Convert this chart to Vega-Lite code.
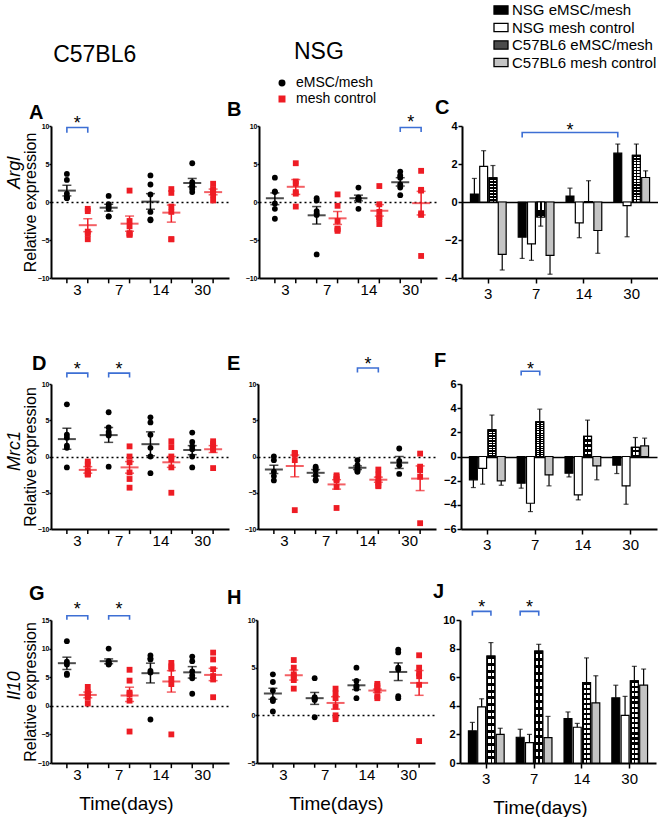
{
"$schema":"https://vega.github.io/schema/vega-lite/v6.json",
"background":"white",
"padding":{"left":6,"top":2,"right":0,"bottom":0},
"config":{
 "font":"Liberation Sans",
 "view":{"stroke":null},
 "axis":{"domainColor":"black","domainWidth":2,"tickColor":"black","tickWidth":1.5,"labelColor":"black","titleColor":"black","labelFont":"Liberation Sans","titleFont":"Liberation Sans","titleFontWeight":"normal","grid":false},
 "axisY":{"labelOverlap":false,"labelPadding":0,"tickSize":2,"tickCount":20,"format":"d"},
 "title":{"color":"black","font":"Liberation Sans","fontWeight":"bold","fontSize":20,"anchor":"start"},
 "legend":{"labelColor":"black","labelFont":"Liberation Sans"}
},
"datasets":{
"pts":[
{"p":"A","d":3,"g":"eMSC/mesh","v":3.7},{"p":"A","d":3,"g":"eMSC/mesh","v":2.9},{"p":"A","d":3,"g":"eMSC/mesh","v":1.1},{"p":"A","d":3,"g":"eMSC/mesh","v":0.6},{"p":"A","d":3,"g":"eMSC/mesh","v":0.5},{"p":"A","d":3,"g":"eMSC/mesh","v":0.6},
{"p":"A","d":3,"g":"mesh control","v":-0.9},{"p":"A","d":3,"g":"mesh control","v":-1.2},{"p":"A","d":3,"g":"mesh control","v":-3.9},{"p":"A","d":3,"g":"mesh control","v":-4.2},{"p":"A","d":3,"g":"mesh control","v":-4.9},
{"p":"A","d":7,"g":"eMSC/mesh","v":0.8},{"p":"A","d":7,"g":"eMSC/mesh","v":-0.3},{"p":"A","d":7,"g":"eMSC/mesh","v":-0.6},{"p":"A","d":7,"g":"eMSC/mesh","v":-0.9},{"p":"A","d":7,"g":"eMSC/mesh","v":-1.9},{"p":"A","d":7,"g":"eMSC/mesh","v":-1.9},
{"p":"A","d":7,"g":"mesh control","v":1.5},{"p":"A","d":7,"g":"mesh control","v":-2.5},{"p":"A","d":7,"g":"mesh control","v":-3.2},{"p":"A","d":7,"g":"mesh control","v":-4.1},{"p":"A","d":7,"g":"mesh control","v":-4.3},{"p":"A","d":7,"g":"mesh control","v":-4.3},
{"p":"A","d":14,"g":"eMSC/mesh","v":3.5},{"p":"A","d":14,"g":"eMSC/mesh","v":2.3},{"p":"A","d":14,"g":"eMSC/mesh","v":1.0},{"p":"A","d":14,"g":"eMSC/mesh","v":-1.3},{"p":"A","d":14,"g":"eMSC/mesh","v":-2.3},{"p":"A","d":14,"g":"eMSC/mesh","v":-2.4},
{"p":"A","d":14,"g":"mesh control","v":1.7},{"p":"A","d":14,"g":"mesh control","v":1.2},{"p":"A","d":14,"g":"mesh control","v":-0.6},{"p":"A","d":14,"g":"mesh control","v":-1.3},{"p":"A","d":14,"g":"mesh control","v":-4.9},{"p":"A","d":14,"g":"mesh control","v":-4.9},
{"p":"A","d":30,"g":"eMSC/mesh","v":5.1},{"p":"A","d":30,"g":"eMSC/mesh","v":2.6},{"p":"A","d":30,"g":"eMSC/mesh","v":2.2},{"p":"A","d":30,"g":"eMSC/mesh","v":2.0},{"p":"A","d":30,"g":"eMSC/mesh","v":1.7},{"p":"A","d":30,"g":"eMSC/mesh","v":1.3},
{"p":"A","d":30,"g":"mesh control","v":2.4},{"p":"A","d":30,"g":"mesh control","v":1.7},{"p":"A","d":30,"g":"mesh control","v":1.5},{"p":"A","d":30,"g":"mesh control","v":1.3},{"p":"A","d":30,"g":"mesh control","v":0.9},{"p":"A","d":30,"g":"mesh control","v":0.2},
{"p":"B","d":3,"g":"eMSC/mesh","v":3.2},{"p":"B","d":3,"g":"eMSC/mesh","v":1.4},{"p":"B","d":3,"g":"eMSC/mesh","v":1.3},{"p":"B","d":3,"g":"eMSC/mesh","v":-0.2},{"p":"B","d":3,"g":"eMSC/mesh","v":-0.9},{"p":"B","d":3,"g":"eMSC/mesh","v":-2.2},
{"p":"B","d":3,"g":"mesh control","v":5.1},{"p":"B","d":3,"g":"mesh control","v":2.7},{"p":"B","d":3,"g":"mesh control","v":2.4},{"p":"B","d":3,"g":"mesh control","v":1.3},{"p":"B","d":3,"g":"mesh control","v":1.1},{"p":"B","d":3,"g":"mesh control","v":-0.6},
{"p":"B","d":7,"g":"eMSC/mesh","v":0.5},{"p":"B","d":7,"g":"eMSC/mesh","v":0.2},{"p":"B","d":7,"g":"eMSC/mesh","v":-1.2},{"p":"B","d":7,"g":"eMSC/mesh","v":-1.5},{"p":"B","d":7,"g":"eMSC/mesh","v":-1.7},{"p":"B","d":7,"g":"eMSC/mesh","v":-6.9},
{"p":"B","d":7,"g":"mesh control","v":1.0},{"p":"B","d":7,"g":"mesh control","v":-0.5},{"p":"B","d":7,"g":"mesh control","v":-2.5},{"p":"B","d":7,"g":"mesh control","v":-3.5},{"p":"B","d":7,"g":"mesh control","v":-3.6},{"p":"B","d":7,"g":"mesh control","v":-3.8},
{"p":"B","d":14,"g":"eMSC/mesh","v":1.9},{"p":"B","d":14,"g":"eMSC/mesh","v":0.6},{"p":"B","d":14,"g":"eMSC/mesh","v":0.5},{"p":"B","d":14,"g":"eMSC/mesh","v":0.4},{"p":"B","d":14,"g":"eMSC/mesh","v":0.3},{"p":"B","d":14,"g":"eMSC/mesh","v":-0.9},
{"p":"B","d":14,"g":"mesh control","v":2.1},{"p":"B","d":14,"g":"mesh control","v":-0.3},{"p":"B","d":14,"g":"mesh control","v":-1.3},{"p":"B","d":14,"g":"mesh control","v":-2.0},{"p":"B","d":14,"g":"mesh control","v":-2.2},{"p":"B","d":14,"g":"mesh control","v":-2.9},
{"p":"B","d":30,"g":"eMSC/mesh","v":4.0},{"p":"B","d":30,"g":"eMSC/mesh","v":3.5},{"p":"B","d":30,"g":"eMSC/mesh","v":3.2},{"p":"B","d":30,"g":"eMSC/mesh","v":2.3},{"p":"B","d":30,"g":"eMSC/mesh","v":1.9},{"p":"B","d":30,"g":"eMSC/mesh","v":0.9},
{"p":"B","d":30,"g":"mesh control","v":4.1},{"p":"B","d":30,"g":"mesh control","v":1.6},{"p":"B","d":30,"g":"mesh control","v":1.5},{"p":"B","d":30,"g":"mesh control","v":-1.5},{"p":"B","d":30,"g":"mesh control","v":-1.7},{"p":"B","d":30,"g":"mesh control","v":-7.1},
{"p":"D","d":3,"g":"eMSC/mesh","v":7.2},{"p":"D","d":3,"g":"eMSC/mesh","v":3.0},{"p":"D","d":3,"g":"eMSC/mesh","v":2.6},{"p":"D","d":3,"g":"eMSC/mesh","v":1.5},{"p":"D","d":3,"g":"eMSC/mesh","v":1.2},{"p":"D","d":3,"g":"eMSC/mesh","v":-1.5},
{"p":"D","d":3,"g":"mesh control","v":-0.7},{"p":"D","d":3,"g":"mesh control","v":-1.1},{"p":"D","d":3,"g":"mesh control","v":-1.9},{"p":"D","d":3,"g":"mesh control","v":-2.3},{"p":"D","d":3,"g":"mesh control","v":-2.4},{"p":"D","d":3,"g":"mesh control","v":-2.5},
{"p":"D","d":7,"g":"eMSC/mesh","v":6.1},{"p":"D","d":7,"g":"eMSC/mesh","v":4.0},{"p":"D","d":7,"g":"eMSC/mesh","v":3.4},{"p":"D","d":7,"g":"eMSC/mesh","v":3.1},{"p":"D","d":7,"g":"eMSC/mesh","v":2.9},{"p":"D","d":7,"g":"eMSC/mesh","v":-1.4},
{"p":"D","d":7,"g":"mesh control","v":1.4},{"p":"D","d":7,"g":"mesh control","v":0.0},{"p":"D","d":7,"g":"mesh control","v":-0.8},{"p":"D","d":7,"g":"mesh control","v":-2.2},{"p":"D","d":7,"g":"mesh control","v":-3.1},{"p":"D","d":7,"g":"mesh control","v":-4.3},
{"p":"D","d":14,"g":"eMSC/mesh","v":5.4},{"p":"D","d":14,"g":"eMSC/mesh","v":4.7},{"p":"D","d":14,"g":"eMSC/mesh","v":3.0},{"p":"D","d":14,"g":"eMSC/mesh","v":1.2},{"p":"D","d":14,"g":"eMSC/mesh","v":0.0},{"p":"D","d":14,"g":"eMSC/mesh","v":-2.3},
{"p":"D","d":14,"g":"mesh control","v":2.1},{"p":"D","d":14,"g":"mesh control","v":1.3},{"p":"D","d":14,"g":"mesh control","v":0.0},{"p":"D","d":14,"g":"mesh control","v":-0.4},{"p":"D","d":14,"g":"mesh control","v":-1.5},{"p":"D","d":14,"g":"mesh control","v":-5.0},
{"p":"D","d":30,"g":"eMSC/mesh","v":3.3},{"p":"D","d":30,"g":"eMSC/mesh","v":2.0},{"p":"D","d":30,"g":"eMSC/mesh","v":1.4},{"p":"D","d":30,"g":"eMSC/mesh","v":1.0},{"p":"D","d":30,"g":"eMSC/mesh","v":0.0},{"p":"D","d":30,"g":"eMSC/mesh","v":-1.5},
{"p":"D","d":30,"g":"mesh control","v":2.1},{"p":"D","d":30,"g":"mesh control","v":1.8},{"p":"D","d":30,"g":"mesh control","v":1.5},{"p":"D","d":30,"g":"mesh control","v":1.1},{"p":"D","d":30,"g":"mesh control","v":0.9},{"p":"D","d":30,"g":"mesh control","v":-1.6},
{"p":"E","d":3,"g":"eMSC/mesh","v":0.0},{"p":"E","d":3,"g":"eMSC/mesh","v":-0.5},{"p":"E","d":3,"g":"eMSC/mesh","v":-2.1},{"p":"E","d":3,"g":"eMSC/mesh","v":-2.7},{"p":"E","d":3,"g":"eMSC/mesh","v":-3.3},
{"p":"E","d":3,"g":"mesh control","v":0.5},{"p":"E","d":3,"g":"mesh control","v":0.4},{"p":"E","d":3,"g":"mesh control","v":0.3},{"p":"E","d":3,"g":"mesh control","v":-0.5},{"p":"E","d":3,"g":"mesh control","v":-7.4},
{"p":"E","d":7,"g":"eMSC/mesh","v":-1.4},{"p":"E","d":7,"g":"eMSC/mesh","v":-1.6},{"p":"E","d":7,"g":"eMSC/mesh","v":-1.9},{"p":"E","d":7,"g":"eMSC/mesh","v":-2.6},{"p":"E","d":7,"g":"eMSC/mesh","v":-3.2},{"p":"E","d":7,"g":"eMSC/mesh","v":-3.3},
{"p":"E","d":7,"g":"mesh control","v":-2.6},{"p":"E","d":7,"g":"mesh control","v":-2.8},{"p":"E","d":7,"g":"mesh control","v":-3.1},{"p":"E","d":7,"g":"mesh control","v":-3.3},{"p":"E","d":7,"g":"mesh control","v":-4.2},{"p":"E","d":7,"g":"mesh control","v":-7.1},
{"p":"E","d":14,"g":"eMSC/mesh","v":-0.5},{"p":"E","d":14,"g":"eMSC/mesh","v":-1.2},{"p":"E","d":14,"g":"eMSC/mesh","v":-1.6},{"p":"E","d":14,"g":"eMSC/mesh","v":-1.8},{"p":"E","d":14,"g":"eMSC/mesh","v":-2.0},{"p":"E","d":14,"g":"eMSC/mesh","v":-2.1},
{"p":"E","d":14,"g":"mesh control","v":-1.8},{"p":"E","d":14,"g":"mesh control","v":-2.5},{"p":"E","d":14,"g":"mesh control","v":-3.1},{"p":"E","d":14,"g":"mesh control","v":-3.6},{"p":"E","d":14,"g":"mesh control","v":-4.0},{"p":"E","d":14,"g":"mesh control","v":-4.1},
{"p":"E","d":30,"g":"eMSC/mesh","v":1.1},{"p":"E","d":30,"g":"eMSC/mesh","v":-0.6},{"p":"E","d":30,"g":"eMSC/mesh","v":-1.2},{"p":"E","d":30,"g":"eMSC/mesh","v":-2.4},
{"p":"E","d":30,"g":"mesh control","v":0.4},{"p":"E","d":30,"g":"mesh control","v":-1.4},{"p":"E","d":30,"g":"mesh control","v":-1.7},{"p":"E","d":30,"g":"mesh control","v":-1.9},{"p":"E","d":30,"g":"mesh control","v":-2.8},{"p":"E","d":30,"g":"mesh control","v":-9.2},
{"p":"G","d":3,"g":"eMSC/mesh","v":11.3},{"p":"G","d":3,"g":"eMSC/mesh","v":7.7},{"p":"G","d":3,"g":"eMSC/mesh","v":7.2},{"p":"G","d":3,"g":"eMSC/mesh","v":5.6},{"p":"G","d":3,"g":"eMSC/mesh","v":5.4},
{"p":"G","d":3,"g":"mesh control","v":3.3},{"p":"G","d":3,"g":"mesh control","v":2.4},{"p":"G","d":3,"g":"mesh control","v":2.2},{"p":"G","d":3,"g":"mesh control","v":1.9},{"p":"G","d":3,"g":"mesh control","v":1.4},{"p":"G","d":3,"g":"mesh control","v":0.4},
{"p":"G","d":7,"g":"eMSC/mesh","v":10.0},{"p":"G","d":7,"g":"eMSC/mesh","v":7.8},{"p":"G","d":7,"g":"eMSC/mesh","v":7.6},{"p":"G","d":7,"g":"eMSC/mesh","v":7.4},{"p":"G","d":7,"g":"eMSC/mesh","v":7.3},{"p":"G","d":7,"g":"eMSC/mesh","v":7.2},
{"p":"G","d":7,"g":"mesh control","v":6.3},{"p":"G","d":7,"g":"mesh control","v":4.4},{"p":"G","d":7,"g":"mesh control","v":2.3},{"p":"G","d":7,"g":"mesh control","v":2.0},{"p":"G","d":7,"g":"mesh control","v":0.9},{"p":"G","d":7,"g":"mesh control","v":-4.5},
{"p":"G","d":14,"g":"eMSC/mesh","v":8.8},{"p":"G","d":14,"g":"eMSC/mesh","v":8.3},{"p":"G","d":14,"g":"eMSC/mesh","v":8.1},{"p":"G","d":14,"g":"eMSC/mesh","v":6.1},{"p":"G","d":14,"g":"eMSC/mesh","v":5.8},{"p":"G","d":14,"g":"eMSC/mesh","v":-2.4},
{"p":"G","d":14,"g":"mesh control","v":7.5},{"p":"G","d":14,"g":"mesh control","v":6.9},{"p":"G","d":14,"g":"mesh control","v":6.5},{"p":"G","d":14,"g":"mesh control","v":4.7},{"p":"G","d":14,"g":"mesh control","v":3.8},{"p":"G","d":14,"g":"mesh control","v":-5.0},
{"p":"G","d":30,"g":"eMSC/mesh","v":8.6},{"p":"G","d":30,"g":"eMSC/mesh","v":7.8},{"p":"G","d":30,"g":"eMSC/mesh","v":6.0},{"p":"G","d":30,"g":"eMSC/mesh","v":5.3},{"p":"G","d":30,"g":"eMSC/mesh","v":4.8},{"p":"G","d":30,"g":"eMSC/mesh","v":2.1},
{"p":"G","d":30,"g":"mesh control","v":9.3},{"p":"G","d":30,"g":"mesh control","v":8.1},{"p":"G","d":30,"g":"mesh control","v":6.4},{"p":"G","d":30,"g":"mesh control","v":5.2},{"p":"G","d":30,"g":"mesh control","v":4.6},{"p":"G","d":30,"g":"mesh control","v":1.5},
{"p":"H","d":3,"g":"eMSC/mesh","v":4.3},{"p":"H","d":3,"g":"eMSC/mesh","v":3.5},{"p":"H","d":3,"g":"eMSC/mesh","v":2.6},{"p":"H","d":3,"g":"eMSC/mesh","v":1.7},{"p":"H","d":3,"g":"eMSC/mesh","v":1.5},{"p":"H","d":3,"g":"eMSC/mesh","v":0.4},
{"p":"H","d":3,"g":"mesh control","v":5.8},{"p":"H","d":3,"g":"mesh control","v":5.0},{"p":"H","d":3,"g":"mesh control","v":4.3},{"p":"H","d":3,"g":"mesh control","v":4.1},{"p":"H","d":3,"g":"mesh control","v":3.7},{"p":"H","d":3,"g":"mesh control","v":2.8},
{"p":"H","d":7,"g":"eMSC/mesh","v":3.9},{"p":"H","d":7,"g":"eMSC/mesh","v":1.9},{"p":"H","d":7,"g":"eMSC/mesh","v":1.8},{"p":"H","d":7,"g":"eMSC/mesh","v":1.7},{"p":"H","d":7,"g":"eMSC/mesh","v":1.6},{"p":"H","d":7,"g":"eMSC/mesh","v":-0.2},
{"p":"H","d":7,"g":"mesh control","v":2.8},{"p":"H","d":7,"g":"mesh control","v":2.3},{"p":"H","d":7,"g":"mesh control","v":1.8},{"p":"H","d":7,"g":"mesh control","v":0.9},{"p":"H","d":7,"g":"mesh control","v":0.0},{"p":"H","d":7,"g":"mesh control","v":-0.4},
{"p":"H","d":14,"g":"eMSC/mesh","v":5.0},{"p":"H","d":14,"g":"eMSC/mesh","v":3.6},{"p":"H","d":14,"g":"eMSC/mesh","v":3.1},{"p":"H","d":14,"g":"eMSC/mesh","v":3.0},{"p":"H","d":14,"g":"eMSC/mesh","v":2.8},{"p":"H","d":14,"g":"eMSC/mesh","v":1.8},
{"p":"H","d":14,"g":"mesh control","v":3.3},{"p":"H","d":14,"g":"mesh control","v":3.1},{"p":"H","d":14,"g":"mesh control","v":2.9},{"p":"H","d":14,"g":"mesh control","v":2.6},{"p":"H","d":14,"g":"mesh control","v":2.0},{"p":"H","d":14,"g":"mesh control","v":1.8},
{"p":"H","d":30,"g":"eMSC/mesh","v":6.9},{"p":"H","d":30,"g":"eMSC/mesh","v":6.6},{"p":"H","d":30,"g":"eMSC/mesh","v":5.0},{"p":"H","d":30,"g":"eMSC/mesh","v":4.8},{"p":"H","d":30,"g":"eMSC/mesh","v":2.0},{"p":"H","d":30,"g":"eMSC/mesh","v":1.8},
{"p":"H","d":30,"g":"mesh control","v":6.3},{"p":"H","d":30,"g":"mesh control","v":5.0},{"p":"H","d":30,"g":"mesh control","v":4.4},{"p":"H","d":30,"g":"mesh control","v":4.1},{"p":"H","d":30,"g":"mesh control","v":3.2},{"p":"H","d":30,"g":"mesh control","v":-2.7}
],
"sm":[
{"p":"A","d":3,"g":"eMSC/mesh","m":1.5,"lo":0.8,"hi":2.2},{"p":"A","d":3,"g":"mesh control","m":-3.05,"lo":-3.9,"hi":-2.2},
{"p":"A","d":7,"g":"eMSC/mesh","m":-0.75,"lo":-1.2,"hi":-0.3},{"p":"A","d":7,"g":"mesh control","m":-2.85,"lo":-3.85,"hi":-1.85},
{"p":"A","d":14,"g":"eMSC/mesh","m":0.05,"lo":-0.95,"hi":1.1},{"p":"A","d":14,"g":"mesh control","m":-1.4,"lo":-2.65,"hi":-0.4},
{"p":"A","d":30,"g":"eMSC/mesh","m":2.5,"lo":2.0,"hi":3.1},{"p":"A","d":30,"g":"mesh control","m":1.3,"lo":0.95,"hi":1.7},
{"p":"B","d":3,"g":"eMSC/mesh","m":0.5,"lo":-0.35,"hi":1.2},{"p":"B","d":3,"g":"mesh control","m":2.0,"lo":1.0,"hi":2.95},
{"p":"B","d":7,"g":"eMSC/mesh","m":-1.75,"lo":-2.9,"hi":-0.6},{"p":"B","d":7,"g":"mesh control","m":-2.15,"lo":-2.95,"hi":-1.25},
{"p":"B","d":14,"g":"eMSC/mesh","m":0.5,"lo":0.15,"hi":0.9},{"p":"B","d":14,"g":"mesh control","m":-1.15,"lo":-1.85,"hi":-0.35},
{"p":"B","d":30,"g":"eMSC/mesh","m":2.6,"lo":2.1,"hi":3.2},{"p":"B","d":30,"g":"mesh control","m":-0.15,"lo":-1.7,"hi":1.4},
{"p":"D","d":3,"g":"eMSC/mesh","m":2.4,"lo":1.0,"hi":3.9},{"p":"D","d":3,"g":"mesh control","m":-1.85,"lo":-2.3,"hi":-1.4},
{"p":"D","d":7,"g":"eMSC/mesh","m":2.95,"lo":1.95,"hi":4.0},{"p":"D","d":7,"g":"mesh control","m":-1.5,"lo":-2.3,"hi":-0.7},
{"p":"D","d":14,"g":"eMSC/mesh","m":1.7,"lo":0.1,"hi":3.4},{"p":"D","d":14,"g":"mesh control","m":-0.8,"lo":-1.5,"hi":0.0},
{"p":"D","d":30,"g":"eMSC/mesh","m":0.9,"lo":0.25,"hi":1.5},{"p":"D","d":30,"g":"mesh control","m":1.0,"lo":0.55,"hi":1.5},
{"p":"E","d":3,"g":"eMSC/mesh","m":-1.8,"lo":-2.35,"hi":-1.2},{"p":"E","d":3,"g":"mesh control","m":-1.3,"lo":-2.8,"hi":0.2},
{"p":"E","d":7,"g":"eMSC/mesh","m":-2.25,"lo":-2.7,"hi":-1.8},{"p":"E","d":7,"g":"mesh control","m":-3.85,"lo":-4.5,"hi":-3.2},
{"p":"E","d":14,"g":"eMSC/mesh","m":-1.55,"lo":-1.8,"hi":-1.3},{"p":"E","d":14,"g":"mesh control","m":-3.2,"lo":-3.55,"hi":-2.85},
{"p":"E","d":30,"g":"eMSC/mesh","m":-0.85,"lo":-1.65,"hi":0.0},{"p":"E","d":30,"g":"mesh control","m":-3.05,"lo":-4.7,"hi":-1.3},
{"p":"G","d":3,"g":"eMSC/mesh","m":7.45,"lo":6.35,"hi":8.5},{"p":"G","d":3,"g":"mesh control","m":1.9,"lo":1.4,"hi":2.4},
{"p":"G","d":7,"g":"eMSC/mesh","m":7.8,"lo":7.35,"hi":8.2},{"p":"G","d":7,"g":"mesh control","m":1.8,"lo":0.75,"hi":3.25},
{"p":"G","d":14,"g":"eMSC/mesh","m":5.7,"lo":4.0,"hi":7.45},{"p":"G","d":14,"g":"mesh control","m":4.25,"lo":2.4,"hi":6.15},
{"p":"G","d":30,"g":"eMSC/mesh","m":5.85,"lo":4.85,"hi":6.85},{"p":"G","d":30,"g":"mesh control","m":5.4,"lo":4.4,"hi":6.55},
{"p":"H","d":3,"g":"eMSC/mesh","m":2.3,"lo":1.7,"hi":2.85},{"p":"H","d":3,"g":"mesh control","m":4.2,"lo":3.7,"hi":4.75},
{"p":"H","d":7,"g":"eMSC/mesh","m":1.8,"lo":1.15,"hi":2.4},{"p":"H","d":7,"g":"mesh control","m":1.3,"lo":0.65,"hi":1.95},
{"p":"H","d":14,"g":"eMSC/mesh","m":3.15,"lo":2.7,"hi":3.7},{"p":"H","d":14,"g":"mesh control","m":2.6,"lo":2.4,"hi":2.75},
{"p":"H","d":30,"g":"eMSC/mesh","m":4.55,"lo":3.65,"hi":5.5},{"p":"H","d":30,"g":"mesh control","m":3.4,"lo":2.1,"hi":4.7}
],
"bars":[
{"p":"C","d":3,"s":"NSG eMSC/mesh","v":0.42,"e":1.24},{"p":"C","d":3,"s":"NSG mesh control","v":1.87,"e":2.7},{"p":"C","d":3,"s":"C57BL6 eMSC/mesh","v":1.27,"e":1.92},{"p":"C","d":3,"s":"C57BL6 mesh control","v":-2.76,"e":-3.58},
{"p":"C","d":7,"s":"NSG eMSC/mesh","v":-1.85,"e":-2.97},{"p":"C","d":7,"s":"NSG mesh control","v":-2.2,"e":-3.07},{"p":"C","d":7,"s":"C57BL6 eMSC/mesh","v":-0.79,"e":-1.27},{"p":"C","d":7,"s":"C57BL6 mesh control","v":-2.81,"e":-3.8},
{"p":"C","d":14,"s":"NSG eMSC/mesh","v":0.31,"e":0.73},{"p":"C","d":14,"s":"NSG mesh control","v":-1.1,"e":-1.88},{"p":"C","d":14,"s":"C57BL6 eMSC/mesh","v":0.02,"e":1.12},{"p":"C","d":14,"s":"C57BL6 mesh control","v":-1.5,"e":-2.7},
{"p":"C","d":30,"s":"NSG eMSC/mesh","v":2.57,"e":3.05},{"p":"C","d":30,"s":"NSG mesh control","v":-0.19,"e":-1.83},{"p":"C","d":30,"s":"C57BL6 eMSC/mesh","v":2.46,"e":3.05},{"p":"C","d":30,"s":"C57BL6 mesh control","v":1.29,"e":1.64},
{"p":"F","d":3,"s":"NSG eMSC/mesh","v":-1.93,"e":-2.57},{"p":"F","d":3,"s":"NSG mesh control","v":-0.99,"e":-2.29},{"p":"F","d":3,"s":"C57BL6 eMSC/mesh","v":2.21,"e":3.43},{"p":"F","d":3,"s":"C57BL6 mesh control","v":-2.02,"e":-2.38},
{"p":"F","d":7,"s":"NSG eMSC/mesh","v":-2.21,"e":-2.62},{"p":"F","d":7,"s":"NSG mesh control","v":-3.87,"e":-4.56},{"p":"F","d":7,"s":"C57BL6 eMSC/mesh","v":2.87,"e":3.92},{"p":"F","d":7,"s":"C57BL6 mesh control","v":-1.52,"e":-2.43},
{"p":"F","d":14,"s":"NSG eMSC/mesh","v":-1.38,"e":-1.69},{"p":"F","d":14,"s":"NSG mesh control","v":-3.18,"e":-3.59},{"p":"F","d":14,"s":"C57BL6 eMSC/mesh","v":1.66,"e":3.01},{"p":"F","d":14,"s":"C57BL6 mesh control","v":-0.77,"e":-1.93},
{"p":"F","d":30,"s":"NSG eMSC/mesh","v":-0.72,"e":-1.41},{"p":"F","d":30,"s":"NSG mesh control","v":-2.43,"e":-3.95},{"p":"F","d":30,"s":"C57BL6 eMSC/mesh","v":0.75,"e":1.57},{"p":"F","d":30,"s":"C57BL6 mesh control","v":0.88,"e":1.52},
{"p":"J","d":3,"s":"NSG eMSC/mesh","v":2.25,"e":2.84},{"p":"J","d":3,"s":"NSG mesh control","v":3.92,"e":4.49},{"p":"J","d":3,"s":"C57BL6 eMSC/mesh","v":7.47,"e":8.42},{"p":"J","d":3,"s":"C57BL6 mesh control","v":2.0,"e":2.43},
{"p":"J","d":7,"s":"NSG eMSC/mesh","v":1.8,"e":2.36},{"p":"J","d":7,"s":"NSG mesh control","v":1.42,"e":2.0},{"p":"J","d":7,"s":"C57BL6 eMSC/mesh","v":7.82,"e":8.3},{"p":"J","d":7,"s":"C57BL6 mesh control","v":1.77,"e":3.26},
{"p":"J","d":14,"s":"NSG eMSC/mesh","v":3.1,"e":3.57},{"p":"J","d":14,"s":"NSG mesh control","v":2.5,"e":2.77},{"p":"J","d":14,"s":"C57BL6 eMSC/mesh","v":5.63,"e":7.35},{"p":"J","d":14,"s":"C57BL6 mesh control","v":4.2,"e":6.1},
{"p":"J","d":30,"s":"NSG eMSC/mesh","v":4.56,"e":5.44},{"p":"J","d":30,"s":"NSG mesh control","v":3.33,"e":4.66},{"p":"J","d":30,"s":"C57BL6 eMSC/mesh","v":5.74,"e":6.76},{"p":"J","d":30,"s":"C57BL6 mesh control","v":5.44,"e":6.57}
],
"brs":[
{"p":"A","id":"A3","d":3,"g":"eMSC/mesh","y":9.1,"k":1},{"p":"A","id":"A3","d":3,"g":"eMSC/mesh","y":9.8,"k":2},{"p":"A","id":"A3","d":3,"g":"mesh control","y":9.8,"k":3},{"p":"A","id":"A3","d":3,"g":"mesh control","y":9.1,"k":4},
{"p":"B","id":"B30","d":30,"g":"eMSC/mesh","y":9.2,"k":1},{"p":"B","id":"B30","d":30,"g":"eMSC/mesh","y":9.8,"k":2},{"p":"B","id":"B30","d":30,"g":"mesh control","y":9.8,"k":3},{"p":"B","id":"B30","d":30,"g":"mesh control","y":9.2,"k":4},
{"p":"D","id":"D3","d":3,"g":"eMSC/mesh","y":10.9,"k":1},{"p":"D","id":"D3","d":3,"g":"eMSC/mesh","y":11.5,"k":2},{"p":"D","id":"D3","d":3,"g":"mesh control","y":11.5,"k":3},{"p":"D","id":"D3","d":3,"g":"mesh control","y":10.9,"k":4},
{"p":"D","id":"D7","d":7,"g":"eMSC/mesh","y":10.9,"k":1},{"p":"D","id":"D7","d":7,"g":"eMSC/mesh","y":11.5,"k":2},{"p":"D","id":"D7","d":7,"g":"mesh control","y":11.5,"k":3},{"p":"D","id":"D7","d":7,"g":"mesh control","y":10.9,"k":4},
{"p":"E","id":"E14","d":14,"g":"eMSC/mesh","y":11.6,"k":1},{"p":"E","id":"E14","d":14,"g":"eMSC/mesh","y":12.2,"k":2},{"p":"E","id":"E14","d":14,"g":"mesh control","y":12.2,"k":3},{"p":"E","id":"E14","d":14,"g":"mesh control","y":11.6,"k":4},
{"p":"G","id":"G3","d":3,"g":"eMSC/mesh","y":15.05,"k":1},{"p":"G","id":"G3","d":3,"g":"eMSC/mesh","y":15.75,"k":2},{"p":"G","id":"G3","d":3,"g":"mesh control","y":15.75,"k":3},{"p":"G","id":"G3","d":3,"g":"mesh control","y":15.05,"k":4},
{"p":"G","id":"G7","d":7,"g":"eMSC/mesh","y":15.05,"k":1},{"p":"G","id":"G7","d":7,"g":"eMSC/mesh","y":15.75,"k":2},{"p":"G","id":"G7","d":7,"g":"mesh control","y":15.75,"k":3},{"p":"G","id":"G7","d":7,"g":"mesh control","y":15.05,"k":4}
],
"sts":[
{"p":"A","d":3,"y":10.3},{"p":"B","d":30,"y":10.45},{"p":"D","d":3,"y":11.9},{"p":"D","d":7,"y":11.9},{"p":"E","d":14,"y":12.6},{"p":"G","d":3,"y":16.7},{"p":"G","d":7,"y":16.7}
],
"brb":[
{"p":"C","id":"C1","d":7,"s":"NSG eMSC/mesh","y":3.4,"k":1},{"p":"C","id":"C1","d":7,"s":"NSG eMSC/mesh","y":3.66,"k":2},{"p":"C","id":"C1","d":30,"s":"NSG eMSC/mesh","y":3.66,"k":3},{"p":"C","id":"C1","d":30,"s":"NSG eMSC/mesh","y":3.4,"k":4},
{"p":"F","id":"F7","d":7,"s":"NSG eMSC/mesh","y":6.7,"k":1},{"p":"F","id":"F7","d":7,"s":"NSG eMSC/mesh","y":7.05,"k":2},{"p":"F","id":"F7","d":7,"s":"C57BL6 eMSC/mesh","y":7.05,"k":3},{"p":"F","id":"F7","d":7,"s":"C57BL6 eMSC/mesh","y":6.7,"k":4},
{"p":"J","id":"J3","d":3,"s":"NSG eMSC/mesh","y":10.3,"k":1},{"p":"J","id":"J3","d":3,"s":"NSG eMSC/mesh","y":10.6,"k":2},{"p":"J","id":"J3","d":3,"s":"C57BL6 eMSC/mesh","y":10.6,"k":3},{"p":"J","id":"J3","d":3,"s":"C57BL6 eMSC/mesh","y":10.3,"k":4},
{"p":"J","id":"J7","d":7,"s":"NSG eMSC/mesh","y":10.3,"k":1},{"p":"J","id":"J7","d":7,"s":"NSG eMSC/mesh","y":10.6,"k":2},{"p":"J","id":"J7","d":7,"s":"C57BL6 eMSC/mesh","y":10.6,"k":3},{"p":"J","id":"J7","d":7,"s":"C57BL6 eMSC/mesh","y":10.3,"k":4}
],
"stb":[
{"p":"C","d":14,"s":"NSG eMSC/mesh","y":3.76},{"p":"F","d":7,"s":"NSG mesh control","y":7.18},{"p":"J","d":3,"s":"NSG mesh control","y":10.84},{"p":"J","d":7,"s":"NSG mesh control","y":10.84}
]
},
"resolve":{"scale":{"color":"independent","shape":"independent","fill":"independent","stroke":"independent","x":"independent","y":"independent","xOffset":"independent"},"legend":{"color":"independent","shape":"independent","fill":"independent","stroke":"independent"}},
"spacing":29,
"vconcat":[
{"vconcat":[
{"hconcat":[
 {"vconcat":[{"vconcat":[
  {"width":178,"height":152,"title":{"text":"A","frame":"group","dx":-22,"offset":-8},
   "layer":[
    {"data":{"name":"sm"},"transform":[{"filter":"datum.p=='A'"}],"mark":{"type":"rule","color":"black","strokeWidth":1.5},"encoding":{"x":{"field":"d","type":"ordinal","scale":{"type":"band","domain":[3,7,14,30],"paddingInner":0,"paddingOuter":0.13},"axis":{"title":null,"ticks":false,"labelAngle":0,"labelFontSize":15,"labelPadding":4}},"xOffset":{"field":"g","type":"nominal","scale":{"domain":["eMSC/mesh","mesh control"],"paddingInner":0,"paddingOuter":0}},"y":{"datum":-10,"type":"quantitative","scale":{"domain":[-10,10],"nice":false,"zero":false},"axis":{"values":[-10,-5,0,5,10],"format":"d","tickCount":20,"labelOverlap":false,"title":"Relative expression","titleFontSize":16,"titlePadding":-1,"labelFontSize":7,"labelFontWeight":"bold","grid":true,"gridColor":"black","gridDash":[2,3],"gridWidth":1.3,"gridOpacity":{"condition":{"test":"datum.value === 0","value":1},"value":0}}},"y2":{"datum":-10.7}}},
    {"data":{"name":"pts"},"transform":[{"filter":"datum.p=='A'"}],"mark":{"type":"point","filled":true,"size":34,"opacity":1},"encoding":{"x":{"field":"d","type":"ordinal","scale":{"type":"band","domain":[3,7,14,30],"paddingInner":0,"paddingOuter":0.13}},"xOffset":{"field":"g","type":"nominal","scale":{"domain":["eMSC/mesh","mesh control"],"paddingInner":0,"paddingOuter":0}},"y":{"field":"v","type":"quantitative","scale":{"domain":[-10,10],"nice":false,"zero":false}},"color":{"field":"g","type":"nominal","scale":{"domain":["eMSC/mesh","mesh control"],"range":["black","#ee1c24"]},"legend":null},"shape":{"field":"g","type":"nominal","scale":{"domain":["eMSC/mesh","mesh control"],"range":["circle","square"]},"legend":null}}},
    {"data":{"name":"sm"},"transform":[{"filter":"datum.p=='A'"}],"mark":{"type":"rule","strokeWidth":1.5},"encoding":{"x":{"field":"d","type":"ordinal","scale":{"type":"band","domain":[3,7,14,30],"paddingInner":0,"paddingOuter":0.13}},"xOffset":{"field":"g","type":"nominal","scale":{"domain":["eMSC/mesh","mesh control"],"paddingInner":0,"paddingOuter":0}},"y":{"field":"lo","type":"quantitative","scale":{"domain":[-10,10],"nice":false,"zero":false}},"y2":{"field":"hi"},"stroke":{"field":"g","type":"nominal","scale":{"domain":["eMSC/mesh","mesh control"],"range":["black","#ee1c24"]},"legend":null}}},
    {"data":{"name":"sm"},"transform":[{"filter":"datum.p=='A'"},{"fold":["lo","hi"],"as":["k","c"]}],"mark":{"type":"tick","orient":"horizontal","size":9,"thickness":1.5},"encoding":{"x":{"field":"d","type":"ordinal","scale":{"type":"band","domain":[3,7,14,30],"paddingInner":0,"paddingOuter":0.13}},"xOffset":{"field":"g","type":"nominal","scale":{"domain":["eMSC/mesh","mesh control"],"paddingInner":0,"paddingOuter":0}},"y":{"field":"c","type":"quantitative","scale":{"domain":[-10,10],"nice":false,"zero":false}},"fill":{"field":"g","type":"nominal","scale":{"domain":["eMSC/mesh","mesh control"],"range":["black","#ee1c24"]},"legend":null}}},
    {"data":{"name":"sm"},"transform":[{"filter":"datum.p=='A'"}],"mark":{"type":"tick","orient":"horizontal","size":18,"thickness":2},"encoding":{"x":{"field":"d","type":"ordinal","scale":{"type":"band","domain":[3,7,14,30],"paddingInner":0,"paddingOuter":0.13}},"xOffset":{"field":"g","type":"nominal","scale":{"domain":["eMSC/mesh","mesh control"],"paddingInner":0,"paddingOuter":0}},"y":{"field":"m","type":"quantitative","scale":{"domain":[-10,10],"nice":false,"zero":false}},"fill":{"field":"g","type":"nominal","scale":{"domain":["eMSC/mesh","mesh control"],"range":["black","#ee1c24"]},"legend":null}}},
    {"data":{"name":"brs"},"transform":[{"filter":"datum.p=='A'"}],"mark":{"type":"line","color":"#3d6fd4","strokeWidth":1.6},"encoding":{"x":{"field":"d","type":"ordinal","scale":{"type":"band","domain":[3,7,14,30],"paddingInner":0,"paddingOuter":0.13}},"xOffset":{"field":"g","type":"nominal","scale":{"domain":["eMSC/mesh","mesh control"],"paddingInner":0,"paddingOuter":0}},"y":{"field":"y","type":"quantitative","scale":{"domain":[-10,10],"nice":false,"zero":false}},"detail":{"field":"id"},"order":{"field":"k"}}},
    {"data":{"name":"sts"},"transform":[{"filter":"datum.p=='A'"}],"mark":{"type":"text","text":"*","fontSize":18,"baseline":"middle"},"encoding":{"x":{"field":"d","type":"ordinal","scale":{"type":"band","domain":[3,7,14,30],"paddingInner":0,"paddingOuter":0.13}},"y":{"field":"y","type":"quantitative","scale":{"domain":[-10,10],"nice":false,"zero":false}}}}
   ]}
  ],"title":{"text":"Argl","orient":"left","anchor":"middle","fontSize":18,"fontStyle":"italic","fontWeight":"normal","offset":-2,"dx":27},
  "resolve":{"scale":{"color":"independent","shape":"independent","fill":"independent","stroke":"independent","xOffset":"independent"},"legend":{"color":"independent","shape":"independent","fill":"independent","stroke":"independent"}}}],
  "title":{"text":"C57BL6","anchor":"start","fontSize":23,"fontWeight":"normal","dx":47,"offset":36},
  "resolve":{"scale":{"color":"independent","shape":"independent","fill":"independent","stroke":"independent","xOffset":"independent"},"legend":{"color":"independent","shape":"independent","fill":"independent","stroke":"independent"}}},
 {"vconcat":[
  {"width":178,"height":152,"title":{"text":"B","frame":"group","dx":-32,"offset":-44},
   "layer":[
    {"data":{"name":"sm"},"transform":[{"filter":"datum.p=='B'"}],"mark":{"type":"rule","color":"black","strokeWidth":1.5},"encoding":{"x":{"field":"d","type":"ordinal","scale":{"type":"band","domain":[3,7,14,30],"paddingInner":0,"paddingOuter":0.13},"axis":{"title":null,"ticks":false,"labelAngle":0,"labelFontSize":15,"labelPadding":4}},"xOffset":{"field":"g","type":"nominal","scale":{"domain":["eMSC/mesh","mesh control"],"paddingInner":0,"paddingOuter":0}},"y":{"datum":-10,"type":"quantitative","scale":{"domain":[-10,10],"nice":false,"zero":false},"axis":{"values":[-10,-5,0,5,10],"format":"d","tickCount":20,"labelOverlap":false,"title":null,"labelFontSize":7,"labelFontWeight":"bold","grid":true,"gridColor":"black","gridDash":[2,3],"gridWidth":1.3,"gridOpacity":{"condition":{"test":"datum.value === 0","value":1},"value":0}}},"y2":{"datum":-10.7}}},
    {"data":{"name":"pts"},"transform":[{"filter":"datum.p=='B'"}],"mark":{"type":"point","filled":true,"size":34,"opacity":1},"encoding":{"x":{"field":"d","type":"ordinal","scale":{"type":"band","domain":[3,7,14,30],"paddingInner":0,"paddingOuter":0.13}},"xOffset":{"field":"g","type":"nominal","scale":{"domain":["eMSC/mesh","mesh control"],"paddingInner":0,"paddingOuter":0}},"y":{"field":"v","type":"quantitative","scale":{"domain":[-10,10],"nice":false,"zero":false}},"color":{"field":"g","type":"nominal","scale":{"domain":["eMSC/mesh","mesh control"],"range":["black","#ee1c24"]},"legend":{"orient":"none","legendX":16,"legendY":-50,"title":null,"labelFontSize":14,"symbolSize":30,"rowPadding":2,"labelOffset":7}},"shape":{"field":"g","type":"nominal","scale":{"domain":["eMSC/mesh","mesh control"],"range":["circle","square"]},"legend":{"orient":"none","legendX":16,"legendY":-50,"title":null,"labelFontSize":14,"symbolSize":30,"rowPadding":2,"labelOffset":7}}}},
    {"data":{"name":"sm"},"transform":[{"filter":"datum.p=='B'"}],"mark":{"type":"rule","strokeWidth":1.5},"encoding":{"x":{"field":"d","type":"ordinal","scale":{"type":"band","domain":[3,7,14,30],"paddingInner":0,"paddingOuter":0.13}},"xOffset":{"field":"g","type":"nominal","scale":{"domain":["eMSC/mesh","mesh control"],"paddingInner":0,"paddingOuter":0}},"y":{"field":"lo","type":"quantitative","scale":{"domain":[-10,10],"nice":false,"zero":false}},"y2":{"field":"hi"},"stroke":{"field":"g","type":"nominal","scale":{"domain":["eMSC/mesh","mesh control"],"range":["black","#ee1c24"]},"legend":null}}},
    {"data":{"name":"sm"},"transform":[{"filter":"datum.p=='B'"},{"fold":["lo","hi"],"as":["k","c"]}],"mark":{"type":"tick","orient":"horizontal","size":9,"thickness":1.5},"encoding":{"x":{"field":"d","type":"ordinal","scale":{"type":"band","domain":[3,7,14,30],"paddingInner":0,"paddingOuter":0.13}},"xOffset":{"field":"g","type":"nominal","scale":{"domain":["eMSC/mesh","mesh control"],"paddingInner":0,"paddingOuter":0}},"y":{"field":"c","type":"quantitative","scale":{"domain":[-10,10],"nice":false,"zero":false}},"fill":{"field":"g","type":"nominal","scale":{"domain":["eMSC/mesh","mesh control"],"range":["black","#ee1c24"]},"legend":null}}},
    {"data":{"name":"sm"},"transform":[{"filter":"datum.p=='B'"}],"mark":{"type":"tick","orient":"horizontal","size":18,"thickness":2},"encoding":{"x":{"field":"d","type":"ordinal","scale":{"type":"band","domain":[3,7,14,30],"paddingInner":0,"paddingOuter":0.13}},"xOffset":{"field":"g","type":"nominal","scale":{"domain":["eMSC/mesh","mesh control"],"paddingInner":0,"paddingOuter":0}},"y":{"field":"m","type":"quantitative","scale":{"domain":[-10,10],"nice":false,"zero":false}},"fill":{"field":"g","type":"nominal","scale":{"domain":["eMSC/mesh","mesh control"],"range":["black","#ee1c24"]},"legend":null}}},
    {"data":{"name":"brs"},"transform":[{"filter":"datum.p=='B'"}],"mark":{"type":"line","color":"#3d6fd4","strokeWidth":1.6},"encoding":{"x":{"field":"d","type":"ordinal","scale":{"type":"band","domain":[3,7,14,30],"paddingInner":0,"paddingOuter":0.13}},"xOffset":{"field":"g","type":"nominal","scale":{"domain":["eMSC/mesh","mesh control"],"paddingInner":0,"paddingOuter":0}},"y":{"field":"y","type":"quantitative","scale":{"domain":[-10,10],"nice":false,"zero":false}},"detail":{"field":"id"},"order":{"field":"k"}}},
    {"data":{"name":"sts"},"transform":[{"filter":"datum.p=='B'"}],"mark":{"type":"text","text":"*","fontSize":18,"baseline":"middle"},"encoding":{"x":{"field":"d","type":"ordinal","scale":{"type":"band","domain":[3,7,14,30],"paddingInner":0,"paddingOuter":0.13}},"y":{"field":"y","type":"quantitative","scale":{"domain":[-10,10],"nice":false,"zero":false}}}}
   ]}
  ],
  "title":{"text":"NSG","anchor":"start","fontSize":23,"fontWeight":"normal","dx":67,"offset":12},
  "resolve":{"scale":{"color":"independent","shape":"independent","fill":"independent","stroke":"independent","xOffset":"independent"},"legend":{"color":"independent","shape":"independent","fill":"independent","stroke":"independent"}}},
 {"width":196,"height":152,"title":{"text":"C","frame":"group","dx":-27,"offset":-116},
  "layer":[
   {"data":{"name":"bars"},"transform":[{"filter":"datum.p=='C'"}],"mark":{"type":"bar","stroke":"black","strokeWidth":1.2},"encoding":{"x":{"field":"d","type":"ordinal","scale":{"type":"band","domain":[3,7,14,30],"paddingInner":0,"paddingOuter":0.05},"axis":{"title":null,"labelAngle":0,"labelFontSize":15,"tickSize":5,"labelPadding":3}},"xOffset":{"field":"s","type":"nominal","scale":{"domain":["NSG eMSC/mesh","NSG mesh control","C57BL6 eMSC/mesh","C57BL6 mesh control"],"paddingInner":0.15,"paddingOuter":0.65}},"y":{"field":"v","type":"quantitative","scale":{"domain":[-4,4],"nice":false,"zero":false},"axis":{"values":[-4,-2,0,2,4],"format":"d","tickCount":20,"labelOverlap":false,"title":null,"labelFontSize":11,"labelFontWeight":"bold","tickSize":4,"labelPadding":1,"grid":true,"gridColor":"black","gridWidth":1.5,"gridOpacity":{"condition":{"test":"datum.value === 0","value":1},"value":0}}},
    "fill":{"field":"s","type":"nominal","scale":{"domain":["NSG eMSC/mesh","NSG mesh control","C57BL6 eMSC/mesh","C57BL6 mesh control"],"range":["black","white","#4a4a4a","#c4c4c4"]},
     "legend":{"orient":"none","legendX":31,"legendY":-124,"title":null,"labelFontSize":15,"symbolType":"M-1,-0.6H1V0.6H-1Z","symbolSize":196,"symbolStrokeColor":"black","symbolStrokeWidth":1.3,"rowPadding":1.5,"labelOffset":3}}}},
   {"data":{"name":"bars"},"transform":[{"filter":"datum.p=='C' && datum.s=='C57BL6 eMSC/mesh'"}],"mark":{"type":"bar","fill":{"gradient":"linear","x1":0,"y1":0,"x2":0,"y2":1,"stops":[{"offset":0,"color":"black"},{"offset":0.028,"color":"black"},{"offset":0.028,"color":"white"},{"offset":0.0625,"color":"white"},{"offset":0.0625,"color":"black"},{"offset":0.091,"color":"black"},{"offset":0.091,"color":"white"},{"offset":0.125,"color":"white"},{"offset":0.125,"color":"black"},{"offset":0.153,"color":"black"},{"offset":0.153,"color":"white"},{"offset":0.1875,"color":"white"},{"offset":0.1875,"color":"black"},{"offset":0.216,"color":"black"},{"offset":0.216,"color":"white"},{"offset":0.25,"color":"white"},{"offset":0.25,"color":"black"},{"offset":0.278,"color":"black"},{"offset":0.278,"color":"white"},{"offset":0.3125,"color":"white"},{"offset":0.3125,"color":"black"},{"offset":0.341,"color":"black"},{"offset":0.341,"color":"white"},{"offset":0.375,"color":"white"},{"offset":0.375,"color":"black"},{"offset":0.403,"color":"black"},{"offset":0.403,"color":"white"},{"offset":0.4375,"color":"white"},{"offset":0.4375,"color":"black"},{"offset":0.466,"color":"black"},{"offset":0.466,"color":"white"},{"offset":0.5,"color":"white"},{"offset":0.5,"color":"black"},{"offset":0.528,"color":"black"},{"offset":0.528,"color":"white"},{"offset":0.5625,"color":"white"},{"offset":0.5625,"color":"black"},{"offset":0.591,"color":"black"},{"offset":0.591,"color":"white"},{"offset":0.625,"color":"white"},{"offset":0.625,"color":"black"},{"offset":0.653,"color":"black"},{"offset":0.653,"color":"white"},{"offset":0.6875,"color":"white"},{"offset":0.6875,"color":"black"},{"offset":0.716,"color":"black"},{"offset":0.716,"color":"white"},{"offset":0.75,"color":"white"},{"offset":0.75,"color":"black"},{"offset":0.778,"color":"black"},{"offset":0.778,"color":"white"},{"offset":0.8125,"color":"white"},{"offset":0.8125,"color":"black"},{"offset":0.841,"color":"black"},{"offset":0.841,"color":"white"},{"offset":0.875,"color":"white"},{"offset":0.875,"color":"black"},{"offset":0.903,"color":"black"},{"offset":0.903,"color":"white"},{"offset":0.9375,"color":"white"},{"offset":0.9375,"color":"black"},{"offset":0.966,"color":"black"},{"offset":0.966,"color":"white"},{"offset":1,"color":"white"}]}},"encoding":{"x":{"field":"d","type":"ordinal","scale":{"type":"band","domain":[3,7,14,30],"paddingInner":0,"paddingOuter":0.05}},"xOffset":{"field":"s","type":"nominal","scale":{"domain":["NSG eMSC/mesh","NSG mesh control","C57BL6 eMSC/mesh","C57BL6 mesh control"],"paddingInner":0.15,"paddingOuter":0.65}},"y":{"field":"v","type":"quantitative","scale":{"domain":[-4,4],"nice":false,"zero":false}}}},
   {"data":{"name":"bars"},"transform":[{"filter":"datum.p=='C' && datum.s=='C57BL6 eMSC/mesh'"}],"mark":{"type":"bar","stroke":"black","strokeWidth":1.2,"fill":{"gradient":"linear","x1":0,"y1":0,"x2":1,"y2":0,"stops":[{"offset":0,"color":"black"},{"offset":0.15,"color":"black"},{"offset":0.15,"color":"rgba(0,0,0,0)"},{"offset":0.45,"color":"rgba(0,0,0,0)"},{"offset":0.45,"color":"black"},{"offset":0.6,"color":"black"},{"offset":0.6,"color":"rgba(0,0,0,0)"},{"offset":0.9,"color":"rgba(0,0,0,0)"},{"offset":0.9,"color":"black"},{"offset":1,"color":"black"}]}},"encoding":{"x":{"field":"d","type":"ordinal","scale":{"type":"band","domain":[3,7,14,30],"paddingInner":0,"paddingOuter":0.05}},"xOffset":{"field":"s","type":"nominal","scale":{"domain":["NSG eMSC/mesh","NSG mesh control","C57BL6 eMSC/mesh","C57BL6 mesh control"],"paddingInner":0.15,"paddingOuter":0.65}},"y":{"field":"v","type":"quantitative","scale":{"domain":[-4,4],"nice":false,"zero":false}}}},
   {"data":{"name":"bars"},"transform":[{"filter":"datum.p=='C'"}],"mark":{"type":"rule","color":"black","strokeWidth":1.2},"encoding":{"x":{"field":"d","type":"ordinal","scale":{"type":"band","domain":[3,7,14,30],"paddingInner":0,"paddingOuter":0.05}},"xOffset":{"field":"s","type":"nominal","scale":{"domain":["NSG eMSC/mesh","NSG mesh control","C57BL6 eMSC/mesh","C57BL6 mesh control"],"paddingInner":0.15,"paddingOuter":0.65}},"y":{"field":"v","type":"quantitative","scale":{"domain":[-4,4],"nice":false,"zero":false}},"y2":{"field":"e"}}},
   {"data":{"name":"bars"},"transform":[{"filter":"datum.p=='C'"}],"mark":{"type":"tick","orient":"horizontal","size":5,"thickness":1.2,"color":"black"},"encoding":{"x":{"field":"d","type":"ordinal","scale":{"type":"band","domain":[3,7,14,30],"paddingInner":0,"paddingOuter":0.05}},"xOffset":{"field":"s","type":"nominal","scale":{"domain":["NSG eMSC/mesh","NSG mesh control","C57BL6 eMSC/mesh","C57BL6 mesh control"],"paddingInner":0.15,"paddingOuter":0.65}},"y":{"field":"e","type":"quantitative","scale":{"domain":[-4,4],"nice":false,"zero":false}}}},
   {"data":{"name":"brb"},"transform":[{"filter":"datum.p=='C'"}],"mark":{"type":"line","color":"#3d6fd4","strokeWidth":1.6},"encoding":{"x":{"field":"d","type":"ordinal","scale":{"type":"band","domain":[3,7,14,30],"paddingInner":0,"paddingOuter":0.05}},"xOffset":{"field":"s","type":"nominal","scale":{"domain":["NSG eMSC/mesh","NSG mesh control","C57BL6 eMSC/mesh","C57BL6 mesh control"],"paddingInner":0.15,"paddingOuter":0.65}},"y":{"field":"y","type":"quantitative","scale":{"domain":[-4,4],"nice":false,"zero":false}},"detail":{"field":"id"},"order":{"field":"k"}}},
   {"data":{"name":"stb"},"transform":[{"filter":"datum.p=='C'"}],"mark":{"type":"text","text":"*","fontSize":18,"baseline":"middle"},"encoding":{"x":{"field":"d","type":"ordinal","scale":{"type":"band","domain":[3,7,14,30],"paddingInner":0,"paddingOuter":0.05}},"xOffset":{"field":"s","type":"nominal","scale":{"domain":["NSG eMSC/mesh","NSG mesh control","C57BL6 eMSC/mesh","C57BL6 mesh control"],"paddingInner":0.15,"paddingOuter":0.65}},"y":{"field":"y","type":"quantitative","scale":{"domain":[-4,4],"nice":false,"zero":false}}}}
  ]}
 ],"spacing":-2,
 "resolve":{"scale":{"color":"independent","shape":"independent","fill":"independent","stroke":"independent","xOffset":"independent"},"legend":{"color":"independent","shape":"independent","fill":"independent","stroke":"independent"}}},
{"hconcat":[
 {"vconcat":[
  {"width":178,"height":145,"title":{"text":"D","frame":"group","dx":-19,"offset":-13},
   "layer":[
    {"data":{"name":"sm"},"transform":[{"filter":"datum.p=='D'"}],"mark":{"type":"rule","color":"black","strokeWidth":1.5},"encoding":{"x":{"field":"d","type":"ordinal","scale":{"type":"band","domain":[3,7,14,30],"paddingInner":0,"paddingOuter":0.13},"axis":{"title":null,"ticks":false,"labelAngle":0,"labelFontSize":15,"labelPadding":4}},"xOffset":{"field":"g","type":"nominal","scale":{"domain":["eMSC/mesh","mesh control"],"paddingInner":0,"paddingOuter":0}},"y":{"datum":-10,"type":"quantitative","scale":{"domain":[-10,10],"nice":false,"zero":false},"axis":{"values":[-10,-5,0,5,10],"format":"d","tickCount":20,"labelOverlap":false,"title":"Relative expression","titleFontSize":16,"titlePadding":-1,"labelFontSize":7,"labelFontWeight":"bold","grid":true,"gridColor":"black","gridDash":[2,3],"gridWidth":1.3,"gridOpacity":{"condition":{"test":"datum.value === 0","value":1},"value":0}}},"y2":{"datum":-10.7}}},
    {"data":{"name":"pts"},"transform":[{"filter":"datum.p=='D'"}],"mark":{"type":"point","filled":true,"size":34,"opacity":1},"encoding":{"x":{"field":"d","type":"ordinal","scale":{"type":"band","domain":[3,7,14,30],"paddingInner":0,"paddingOuter":0.13}},"xOffset":{"field":"g","type":"nominal","scale":{"domain":["eMSC/mesh","mesh control"],"paddingInner":0,"paddingOuter":0}},"y":{"field":"v","type":"quantitative","scale":{"domain":[-10,10],"nice":false,"zero":false}},"color":{"field":"g","type":"nominal","scale":{"domain":["eMSC/mesh","mesh control"],"range":["black","#ee1c24"]},"legend":null},"shape":{"field":"g","type":"nominal","scale":{"domain":["eMSC/mesh","mesh control"],"range":["circle","square"]},"legend":null}}},
    {"data":{"name":"sm"},"transform":[{"filter":"datum.p=='D'"}],"mark":{"type":"rule","strokeWidth":1.5},"encoding":{"x":{"field":"d","type":"ordinal","scale":{"type":"band","domain":[3,7,14,30],"paddingInner":0,"paddingOuter":0.13}},"xOffset":{"field":"g","type":"nominal","scale":{"domain":["eMSC/mesh","mesh control"],"paddingInner":0,"paddingOuter":0}},"y":{"field":"lo","type":"quantitative","scale":{"domain":[-10,10],"nice":false,"zero":false}},"y2":{"field":"hi"},"stroke":{"field":"g","type":"nominal","scale":{"domain":["eMSC/mesh","mesh control"],"range":["black","#ee1c24"]},"legend":null}}},
    {"data":{"name":"sm"},"transform":[{"filter":"datum.p=='D'"},{"fold":["lo","hi"],"as":["k","c"]}],"mark":{"type":"tick","orient":"horizontal","size":9,"thickness":1.5},"encoding":{"x":{"field":"d","type":"ordinal","scale":{"type":"band","domain":[3,7,14,30],"paddingInner":0,"paddingOuter":0.13}},"xOffset":{"field":"g","type":"nominal","scale":{"domain":["eMSC/mesh","mesh control"],"paddingInner":0,"paddingOuter":0}},"y":{"field":"c","type":"quantitative","scale":{"domain":[-10,10],"nice":false,"zero":false}},"fill":{"field":"g","type":"nominal","scale":{"domain":["eMSC/mesh","mesh control"],"range":["black","#ee1c24"]},"legend":null}}},
    {"data":{"name":"sm"},"transform":[{"filter":"datum.p=='D'"}],"mark":{"type":"tick","orient":"horizontal","size":18,"thickness":2},"encoding":{"x":{"field":"d","type":"ordinal","scale":{"type":"band","domain":[3,7,14,30],"paddingInner":0,"paddingOuter":0.13}},"xOffset":{"field":"g","type":"nominal","scale":{"domain":["eMSC/mesh","mesh control"],"paddingInner":0,"paddingOuter":0}},"y":{"field":"m","type":"quantitative","scale":{"domain":[-10,10],"nice":false,"zero":false}},"fill":{"field":"g","type":"nominal","scale":{"domain":["eMSC/mesh","mesh control"],"range":["black","#ee1c24"]},"legend":null}}},
    {"data":{"name":"brs"},"transform":[{"filter":"datum.p=='D'"}],"mark":{"type":"line","color":"#3d6fd4","strokeWidth":1.6},"encoding":{"x":{"field":"d","type":"ordinal","scale":{"type":"band","domain":[3,7,14,30],"paddingInner":0,"paddingOuter":0.13}},"xOffset":{"field":"g","type":"nominal","scale":{"domain":["eMSC/mesh","mesh control"],"paddingInner":0,"paddingOuter":0}},"y":{"field":"y","type":"quantitative","scale":{"domain":[-10,10],"nice":false,"zero":false}},"detail":{"field":"id"},"order":{"field":"k"}}},
    {"data":{"name":"sts"},"transform":[{"filter":"datum.p=='D'"}],"mark":{"type":"text","text":"*","fontSize":18,"baseline":"middle"},"encoding":{"x":{"field":"d","type":"ordinal","scale":{"type":"band","domain":[3,7,14,30],"paddingInner":0,"paddingOuter":0.13}},"y":{"field":"y","type":"quantitative","scale":{"domain":[-10,10],"nice":false,"zero":false}}}}
   ]}
  ],"title":{"text":"Mrc1","orient":"left","anchor":"middle","fontSize":18,"fontStyle":"italic","fontWeight":"normal","offset":-2,"dx":0},
  "resolve":{"scale":{"color":"independent","shape":"independent","fill":"independent","stroke":"independent","xOffset":"independent"},"legend":{"color":"independent","shape":"independent","fill":"independent","stroke":"independent"}}},
 {"width":178,"height":145,"title":{"text":"E","frame":"group","dx":-31,"offset":-18},
   "layer":[
    {"data":{"name":"sm"},"transform":[{"filter":"datum.p=='E'"}],"mark":{"type":"rule","color":"black","strokeWidth":1.5},"encoding":{"x":{"field":"d","type":"ordinal","scale":{"type":"band","domain":[3,7,14,30],"paddingInner":0,"paddingOuter":0.13},"axis":{"title":null,"ticks":false,"labelAngle":0,"labelFontSize":15,"labelPadding":4}},"xOffset":{"field":"g","type":"nominal","scale":{"domain":["eMSC/mesh","mesh control"],"paddingInner":0,"paddingOuter":0}},"y":{"datum":-10,"type":"quantitative","scale":{"domain":[-10,10],"nice":false,"zero":false},"axis":{"values":[-10,-5,0,5,10],"format":"d","tickCount":20,"labelOverlap":false,"title":null,"labelFontSize":7,"labelFontWeight":"bold","grid":true,"gridColor":"black","gridDash":[2,3],"gridWidth":1.3,"gridOpacity":{"condition":{"test":"datum.value === 0","value":1},"value":0}}},"y2":{"datum":-10.7}}},
    {"data":{"name":"pts"},"transform":[{"filter":"datum.p=='E'"}],"mark":{"type":"point","filled":true,"size":34,"opacity":1},"encoding":{"x":{"field":"d","type":"ordinal","scale":{"type":"band","domain":[3,7,14,30],"paddingInner":0,"paddingOuter":0.13}},"xOffset":{"field":"g","type":"nominal","scale":{"domain":["eMSC/mesh","mesh control"],"paddingInner":0,"paddingOuter":0}},"y":{"field":"v","type":"quantitative","scale":{"domain":[-10,10],"nice":false,"zero":false}},"color":{"field":"g","type":"nominal","scale":{"domain":["eMSC/mesh","mesh control"],"range":["black","#ee1c24"]},"legend":null},"shape":{"field":"g","type":"nominal","scale":{"domain":["eMSC/mesh","mesh control"],"range":["circle","square"]},"legend":null}}},
    {"data":{"name":"sm"},"transform":[{"filter":"datum.p=='E'"}],"mark":{"type":"rule","strokeWidth":1.5},"encoding":{"x":{"field":"d","type":"ordinal","scale":{"type":"band","domain":[3,7,14,30],"paddingInner":0,"paddingOuter":0.13}},"xOffset":{"field":"g","type":"nominal","scale":{"domain":["eMSC/mesh","mesh control"],"paddingInner":0,"paddingOuter":0}},"y":{"field":"lo","type":"quantitative","scale":{"domain":[-10,10],"nice":false,"zero":false}},"y2":{"field":"hi"},"stroke":{"field":"g","type":"nominal","scale":{"domain":["eMSC/mesh","mesh control"],"range":["black","#ee1c24"]},"legend":null}}},
    {"data":{"name":"sm"},"transform":[{"filter":"datum.p=='E'"},{"fold":["lo","hi"],"as":["k","c"]}],"mark":{"type":"tick","orient":"horizontal","size":9,"thickness":1.5},"encoding":{"x":{"field":"d","type":"ordinal","scale":{"type":"band","domain":[3,7,14,30],"paddingInner":0,"paddingOuter":0.13}},"xOffset":{"field":"g","type":"nominal","scale":{"domain":["eMSC/mesh","mesh control"],"paddingInner":0,"paddingOuter":0}},"y":{"field":"c","type":"quantitative","scale":{"domain":[-10,10],"nice":false,"zero":false}},"fill":{"field":"g","type":"nominal","scale":{"domain":["eMSC/mesh","mesh control"],"range":["black","#ee1c24"]},"legend":null}}},
    {"data":{"name":"sm"},"transform":[{"filter":"datum.p=='E'"}],"mark":{"type":"tick","orient":"horizontal","size":18,"thickness":2},"encoding":{"x":{"field":"d","type":"ordinal","scale":{"type":"band","domain":[3,7,14,30],"paddingInner":0,"paddingOuter":0.13}},"xOffset":{"field":"g","type":"nominal","scale":{"domain":["eMSC/mesh","mesh control"],"paddingInner":0,"paddingOuter":0}},"y":{"field":"m","type":"quantitative","scale":{"domain":[-10,10],"nice":false,"zero":false}},"fill":{"field":"g","type":"nominal","scale":{"domain":["eMSC/mesh","mesh control"],"range":["black","#ee1c24"]},"legend":null}}},
    {"data":{"name":"brs"},"transform":[{"filter":"datum.p=='E'"}],"mark":{"type":"line","color":"#3d6fd4","strokeWidth":1.6},"encoding":{"x":{"field":"d","type":"ordinal","scale":{"type":"band","domain":[3,7,14,30],"paddingInner":0,"paddingOuter":0.13}},"xOffset":{"field":"g","type":"nominal","scale":{"domain":["eMSC/mesh","mesh control"],"paddingInner":0,"paddingOuter":0}},"y":{"field":"y","type":"quantitative","scale":{"domain":[-10,10],"nice":false,"zero":false}},"detail":{"field":"id"},"order":{"field":"k"}}},
    {"data":{"name":"sts"},"transform":[{"filter":"datum.p=='E'"}],"mark":{"type":"text","text":"*","fontSize":18,"baseline":"middle"},"encoding":{"x":{"field":"d","type":"ordinal","scale":{"type":"band","domain":[3,7,14,30],"paddingInner":0,"paddingOuter":0.13}},"y":{"field":"y","type":"quantitative","scale":{"domain":[-10,10],"nice":false,"zero":false}}}}
   ]},
 {"width":196,"height":145,"title":{"text":"F","frame":"group","dx":-27,"offset":-10},
  "layer":[
   {"data":{"name":"bars"},"transform":[{"filter":"datum.p=='F'"}],"mark":{"type":"bar","stroke":"black","strokeWidth":1.2},"encoding":{"x":{"field":"d","type":"ordinal","scale":{"type":"band","domain":[3,7,14,30],"paddingInner":0,"paddingOuter":0.05},"axis":{"title":null,"labelAngle":0,"labelFontSize":15,"tickSize":5,"labelPadding":3}},"xOffset":{"field":"s","type":"nominal","scale":{"domain":["NSG eMSC/mesh","NSG mesh control","C57BL6 eMSC/mesh","C57BL6 mesh control"],"paddingInner":0.15,"paddingOuter":0.65}},"y":{"field":"v","type":"quantitative","scale":{"domain":[-6,6],"nice":false,"zero":false},"axis":{"values":[-6,-4,-2,0,2,4,6],"format":"d","tickCount":20,"labelOverlap":false,"title":null,"labelFontSize":11,"labelFontWeight":"bold","tickSize":4,"labelPadding":1,"grid":true,"gridColor":"black","gridWidth":1.5,"gridOpacity":{"condition":{"test":"datum.value === 0","value":1},"value":0}}},
    "fill":{"field":"s","type":"nominal","scale":{"domain":["NSG eMSC/mesh","NSG mesh control","C57BL6 eMSC/mesh","C57BL6 mesh control"],"range":["black","white","#4a4a4a","#c4c4c4"]},"legend":null}}},
   {"data":{"name":"bars"},"transform":[{"filter":"datum.p=='F' && datum.s=='C57BL6 eMSC/mesh'"}],"mark":{"type":"bar","fill":{"gradient":"linear","x1":0,"y1":0,"x2":0,"y2":1,"stops":[{"offset":0,"color":"black"},{"offset":0.028,"color":"black"},{"offset":0.028,"color":"white"},{"offset":0.0625,"color":"white"},{"offset":0.0625,"color":"black"},{"offset":0.091,"color":"black"},{"offset":0.091,"color":"white"},{"offset":0.125,"color":"white"},{"offset":0.125,"color":"black"},{"offset":0.153,"color":"black"},{"offset":0.153,"color":"white"},{"offset":0.1875,"color":"white"},{"offset":0.1875,"color":"black"},{"offset":0.216,"color":"black"},{"offset":0.216,"color":"white"},{"offset":0.25,"color":"white"},{"offset":0.25,"color":"black"},{"offset":0.278,"color":"black"},{"offset":0.278,"color":"white"},{"offset":0.3125,"color":"white"},{"offset":0.3125,"color":"black"},{"offset":0.341,"color":"black"},{"offset":0.341,"color":"white"},{"offset":0.375,"color":"white"},{"offset":0.375,"color":"black"},{"offset":0.403,"color":"black"},{"offset":0.403,"color":"white"},{"offset":0.4375,"color":"white"},{"offset":0.4375,"color":"black"},{"offset":0.466,"color":"black"},{"offset":0.466,"color":"white"},{"offset":0.5,"color":"white"},{"offset":0.5,"color":"black"},{"offset":0.528,"color":"black"},{"offset":0.528,"color":"white"},{"offset":0.5625,"color":"white"},{"offset":0.5625,"color":"black"},{"offset":0.591,"color":"black"},{"offset":0.591,"color":"white"},{"offset":0.625,"color":"white"},{"offset":0.625,"color":"black"},{"offset":0.653,"color":"black"},{"offset":0.653,"color":"white"},{"offset":0.6875,"color":"white"},{"offset":0.6875,"color":"black"},{"offset":0.716,"color":"black"},{"offset":0.716,"color":"white"},{"offset":0.75,"color":"white"},{"offset":0.75,"color":"black"},{"offset":0.778,"color":"black"},{"offset":0.778,"color":"white"},{"offset":0.8125,"color":"white"},{"offset":0.8125,"color":"black"},{"offset":0.841,"color":"black"},{"offset":0.841,"color":"white"},{"offset":0.875,"color":"white"},{"offset":0.875,"color":"black"},{"offset":0.903,"color":"black"},{"offset":0.903,"color":"white"},{"offset":0.9375,"color":"white"},{"offset":0.9375,"color":"black"},{"offset":0.966,"color":"black"},{"offset":0.966,"color":"white"},{"offset":1,"color":"white"}]}},"encoding":{"x":{"field":"d","type":"ordinal","scale":{"type":"band","domain":[3,7,14,30],"paddingInner":0,"paddingOuter":0.05}},"xOffset":{"field":"s","type":"nominal","scale":{"domain":["NSG eMSC/mesh","NSG mesh control","C57BL6 eMSC/mesh","C57BL6 mesh control"],"paddingInner":0.15,"paddingOuter":0.65}},"y":{"field":"v","type":"quantitative","scale":{"domain":[-6,6],"nice":false,"zero":false}}}},
   {"data":{"name":"bars"},"transform":[{"filter":"datum.p=='F' && datum.s=='C57BL6 eMSC/mesh'"}],"mark":{"type":"bar","stroke":"black","strokeWidth":1.2,"fill":{"gradient":"linear","x1":0,"y1":0,"x2":1,"y2":0,"stops":[{"offset":0,"color":"black"},{"offset":0.15,"color":"black"},{"offset":0.15,"color":"rgba(0,0,0,0)"},{"offset":0.45,"color":"rgba(0,0,0,0)"},{"offset":0.45,"color":"black"},{"offset":0.6,"color":"black"},{"offset":0.6,"color":"rgba(0,0,0,0)"},{"offset":0.9,"color":"rgba(0,0,0,0)"},{"offset":0.9,"color":"black"},{"offset":1,"color":"black"}]}},"encoding":{"x":{"field":"d","type":"ordinal","scale":{"type":"band","domain":[3,7,14,30],"paddingInner":0,"paddingOuter":0.05}},"xOffset":{"field":"s","type":"nominal","scale":{"domain":["NSG eMSC/mesh","NSG mesh control","C57BL6 eMSC/mesh","C57BL6 mesh control"],"paddingInner":0.15,"paddingOuter":0.65}},"y":{"field":"v","type":"quantitative","scale":{"domain":[-6,6],"nice":false,"zero":false}}}},
   {"data":{"name":"bars"},"transform":[{"filter":"datum.p=='F'"}],"mark":{"type":"rule","color":"black","strokeWidth":1.2},"encoding":{"x":{"field":"d","type":"ordinal","scale":{"type":"band","domain":[3,7,14,30],"paddingInner":0,"paddingOuter":0.05}},"xOffset":{"field":"s","type":"nominal","scale":{"domain":["NSG eMSC/mesh","NSG mesh control","C57BL6 eMSC/mesh","C57BL6 mesh control"],"paddingInner":0.15,"paddingOuter":0.65}},"y":{"field":"v","type":"quantitative","scale":{"domain":[-6,6],"nice":false,"zero":false}},"y2":{"field":"e"}}},
   {"data":{"name":"bars"},"transform":[{"filter":"datum.p=='F'"}],"mark":{"type":"tick","orient":"horizontal","size":5,"thickness":1.2,"color":"black"},"encoding":{"x":{"field":"d","type":"ordinal","scale":{"type":"band","domain":[3,7,14,30],"paddingInner":0,"paddingOuter":0.05}},"xOffset":{"field":"s","type":"nominal","scale":{"domain":["NSG eMSC/mesh","NSG mesh control","C57BL6 eMSC/mesh","C57BL6 mesh control"],"paddingInner":0.15,"paddingOuter":0.65}},"y":{"field":"e","type":"quantitative","scale":{"domain":[-6,6],"nice":false,"zero":false}}}},
   {"data":{"name":"brb"},"transform":[{"filter":"datum.p=='F'"}],"mark":{"type":"line","color":"#3d6fd4","strokeWidth":1.6},"encoding":{"x":{"field":"d","type":"ordinal","scale":{"type":"band","domain":[3,7,14,30],"paddingInner":0,"paddingOuter":0.05}},"xOffset":{"field":"s","type":"nominal","scale":{"domain":["NSG eMSC/mesh","NSG mesh control","C57BL6 eMSC/mesh","C57BL6 mesh control"],"paddingInner":0.15,"paddingOuter":0.65}},"y":{"field":"y","type":"quantitative","scale":{"domain":[-6,6],"nice":false,"zero":false}},"detail":{"field":"id"},"order":{"field":"k"}}},
   {"data":{"name":"stb"},"transform":[{"filter":"datum.p=='F'"}],"mark":{"type":"text","text":"*","fontSize":18,"baseline":"middle"},"encoding":{"x":{"field":"d","type":"ordinal","scale":{"type":"band","domain":[3,7,14,30],"paddingInner":0,"paddingOuter":0.05}},"xOffset":{"field":"s","type":"nominal","scale":{"domain":["NSG eMSC/mesh","NSG mesh control","C57BL6 eMSC/mesh","C57BL6 mesh control"],"paddingInner":0.15,"paddingOuter":0.65}},"y":{"field":"y","type":"quantitative","scale":{"domain":[-6,6],"nice":false,"zero":false}}}}
  ]}
 ],"spacing":-2,
 "resolve":{"scale":{"color":"independent","shape":"independent","fill":"independent","stroke":"independent","xOffset":"independent"},"legend":{"color":"independent","shape":"independent","fill":"independent","stroke":"independent"}}}
],"spacing":49,
"resolve":{"scale":{"color":"independent","shape":"independent","fill":"independent","stroke":"independent","xOffset":"independent"},"legend":{"color":"independent","shape":"independent","fill":"independent","stroke":"independent"}}},
{"hconcat":[
 {"vconcat":[
  {"width":178,"height":143,"title":{"text":"G","frame":"group","dx":-22,"offset":-3},
   "layer":[
    {"data":{"name":"sm"},"transform":[{"filter":"datum.p=='G'"}],"mark":{"type":"rule","color":"black","strokeWidth":1.5},"encoding":{"x":{"field":"d","type":"ordinal","scale":{"type":"band","domain":[3,7,14,30],"paddingInner":0,"paddingOuter":0.13},"axis":{"title":"Time(days)","titleFontSize":19,"titlePadding":12,"titleX":75,"ticks":false,"labelAngle":0,"labelFontSize":15,"labelPadding":4}},"xOffset":{"field":"g","type":"nominal","scale":{"domain":["eMSC/mesh","mesh control"],"paddingInner":0,"paddingOuter":0}},"y":{"datum":-10,"type":"quantitative","scale":{"domain":[-10,15],"nice":false,"zero":false},"axis":{"values":[-10,-5,0,5,10,15],"format":"d","tickCount":20,"labelOverlap":false,"title":"Relative expression","titleFontSize":16,"titlePadding":-1,"labelFontSize":7,"labelFontWeight":"bold","grid":true,"gridColor":"black","gridDash":[2,3],"gridWidth":1.3,"gridOpacity":{"condition":{"test":"datum.value === 0","value":1},"value":0}}},"y2":{"datum":-10.9}}},
    {"data":{"name":"pts"},"transform":[{"filter":"datum.p=='G'"}],"mark":{"type":"point","filled":true,"size":34,"opacity":1},"encoding":{"x":{"field":"d","type":"ordinal","scale":{"type":"band","domain":[3,7,14,30],"paddingInner":0,"paddingOuter":0.13}},"xOffset":{"field":"g","type":"nominal","scale":{"domain":["eMSC/mesh","mesh control"],"paddingInner":0,"paddingOuter":0}},"y":{"field":"v","type":"quantitative","scale":{"domain":[-10,15],"nice":false,"zero":false}},"color":{"field":"g","type":"nominal","scale":{"domain":["eMSC/mesh","mesh control"],"range":["black","#ee1c24"]},"legend":null},"shape":{"field":"g","type":"nominal","scale":{"domain":["eMSC/mesh","mesh control"],"range":["circle","square"]},"legend":null}}},
    {"data":{"name":"sm"},"transform":[{"filter":"datum.p=='G'"}],"mark":{"type":"rule","strokeWidth":1.5},"encoding":{"x":{"field":"d","type":"ordinal","scale":{"type":"band","domain":[3,7,14,30],"paddingInner":0,"paddingOuter":0.13}},"xOffset":{"field":"g","type":"nominal","scale":{"domain":["eMSC/mesh","mesh control"],"paddingInner":0,"paddingOuter":0}},"y":{"field":"lo","type":"quantitative","scale":{"domain":[-10,15],"nice":false,"zero":false}},"y2":{"field":"hi"},"stroke":{"field":"g","type":"nominal","scale":{"domain":["eMSC/mesh","mesh control"],"range":["black","#ee1c24"]},"legend":null}}},
    {"data":{"name":"sm"},"transform":[{"filter":"datum.p=='G'"},{"fold":["lo","hi"],"as":["k","c"]}],"mark":{"type":"tick","orient":"horizontal","size":9,"thickness":1.5},"encoding":{"x":{"field":"d","type":"ordinal","scale":{"type":"band","domain":[3,7,14,30],"paddingInner":0,"paddingOuter":0.13}},"xOffset":{"field":"g","type":"nominal","scale":{"domain":["eMSC/mesh","mesh control"],"paddingInner":0,"paddingOuter":0}},"y":{"field":"c","type":"quantitative","scale":{"domain":[-10,15],"nice":false,"zero":false}},"fill":{"field":"g","type":"nominal","scale":{"domain":["eMSC/mesh","mesh control"],"range":["black","#ee1c24"]},"legend":null}}},
    {"data":{"name":"sm"},"transform":[{"filter":"datum.p=='G'"}],"mark":{"type":"tick","orient":"horizontal","size":18,"thickness":2},"encoding":{"x":{"field":"d","type":"ordinal","scale":{"type":"band","domain":[3,7,14,30],"paddingInner":0,"paddingOuter":0.13}},"xOffset":{"field":"g","type":"nominal","scale":{"domain":["eMSC/mesh","mesh control"],"paddingInner":0,"paddingOuter":0}},"y":{"field":"m","type":"quantitative","scale":{"domain":[-10,15],"nice":false,"zero":false}},"fill":{"field":"g","type":"nominal","scale":{"domain":["eMSC/mesh","mesh control"],"range":["black","#ee1c24"]},"legend":null}}},
    {"data":{"name":"brs"},"transform":[{"filter":"datum.p=='G'"}],"mark":{"type":"line","color":"#3d6fd4","strokeWidth":1.6},"encoding":{"x":{"field":"d","type":"ordinal","scale":{"type":"band","domain":[3,7,14,30],"paddingInner":0,"paddingOuter":0.13}},"xOffset":{"field":"g","type":"nominal","scale":{"domain":["eMSC/mesh","mesh control"],"paddingInner":0,"paddingOuter":0}},"y":{"field":"y","type":"quantitative","scale":{"domain":[-10,15],"nice":false,"zero":false}},"detail":{"field":"id"},"order":{"field":"k"}}},
    {"data":{"name":"sts"},"transform":[{"filter":"datum.p=='G'"}],"mark":{"type":"text","text":"*","fontSize":18,"baseline":"middle"},"encoding":{"x":{"field":"d","type":"ordinal","scale":{"type":"band","domain":[3,7,14,30],"paddingInner":0,"paddingOuter":0.13}},"y":{"field":"y","type":"quantitative","scale":{"domain":[-10,15],"nice":false,"zero":false}}}}
   ]}
  ],"title":{"text":"Il10","orient":"left","anchor":"middle","fontSize":18,"fontStyle":"italic","fontWeight":"normal","offset":-2,"dx":13},
  "resolve":{"scale":{"color":"independent","shape":"independent","fill":"independent","stroke":"independent","xOffset":"independent"},"legend":{"color":"independent","shape":"independent","fill":"independent","stroke":"independent"}}},
 {"width":178,"height":143,"title":{"text":"H","frame":"group","dx":-30,"offset":8},
   "layer":[
    {"data":{"name":"sm"},"transform":[{"filter":"datum.p=='H'"}],"mark":{"type":"rule","color":"black","strokeWidth":1.5},"encoding":{"x":{"field":"d","type":"ordinal","scale":{"type":"band","domain":[3,7,14,30],"paddingInner":0,"paddingOuter":0.13},"axis":{"title":"Time(days)","titleFontSize":19,"titlePadding":12,"titleX":79,"ticks":false,"labelAngle":0,"labelFontSize":15,"labelPadding":4}},"xOffset":{"field":"g","type":"nominal","scale":{"domain":["eMSC/mesh","mesh control"],"paddingInner":0,"paddingOuter":0}},"y":{"datum":-5,"type":"quantitative","scale":{"domain":[-5,10],"nice":false,"zero":false},"axis":{"values":[-5,0,5,10],"format":"d","tickCount":20,"labelOverlap":false,"title":null,"labelFontSize":7,"labelFontWeight":"bold","grid":true,"gridColor":"black","gridDash":[2,3],"gridWidth":1.3,"gridOpacity":{"condition":{"test":"datum.value === 0","value":1},"value":0}}},"y2":{"datum":-5.5}}},
    {"data":{"name":"pts"},"transform":[{"filter":"datum.p=='H'"}],"mark":{"type":"point","filled":true,"size":34,"opacity":1},"encoding":{"x":{"field":"d","type":"ordinal","scale":{"type":"band","domain":[3,7,14,30],"paddingInner":0,"paddingOuter":0.13}},"xOffset":{"field":"g","type":"nominal","scale":{"domain":["eMSC/mesh","mesh control"],"paddingInner":0,"paddingOuter":0}},"y":{"field":"v","type":"quantitative","scale":{"domain":[-5,10],"nice":false,"zero":false}},"color":{"field":"g","type":"nominal","scale":{"domain":["eMSC/mesh","mesh control"],"range":["black","#ee1c24"]},"legend":null},"shape":{"field":"g","type":"nominal","scale":{"domain":["eMSC/mesh","mesh control"],"range":["circle","square"]},"legend":null}}},
    {"data":{"name":"sm"},"transform":[{"filter":"datum.p=='H'"}],"mark":{"type":"rule","strokeWidth":1.5},"encoding":{"x":{"field":"d","type":"ordinal","scale":{"type":"band","domain":[3,7,14,30],"paddingInner":0,"paddingOuter":0.13}},"xOffset":{"field":"g","type":"nominal","scale":{"domain":["eMSC/mesh","mesh control"],"paddingInner":0,"paddingOuter":0}},"y":{"field":"lo","type":"quantitative","scale":{"domain":[-5,10],"nice":false,"zero":false}},"y2":{"field":"hi"},"stroke":{"field":"g","type":"nominal","scale":{"domain":["eMSC/mesh","mesh control"],"range":["black","#ee1c24"]},"legend":null}}},
    {"data":{"name":"sm"},"transform":[{"filter":"datum.p=='H'"},{"fold":["lo","hi"],"as":["k","c"]}],"mark":{"type":"tick","orient":"horizontal","size":9,"thickness":1.5},"encoding":{"x":{"field":"d","type":"ordinal","scale":{"type":"band","domain":[3,7,14,30],"paddingInner":0,"paddingOuter":0.13}},"xOffset":{"field":"g","type":"nominal","scale":{"domain":["eMSC/mesh","mesh control"],"paddingInner":0,"paddingOuter":0}},"y":{"field":"c","type":"quantitative","scale":{"domain":[-5,10],"nice":false,"zero":false}},"fill":{"field":"g","type":"nominal","scale":{"domain":["eMSC/mesh","mesh control"],"range":["black","#ee1c24"]},"legend":null}}},
    {"data":{"name":"sm"},"transform":[{"filter":"datum.p=='H'"}],"mark":{"type":"tick","orient":"horizontal","size":18,"thickness":2},"encoding":{"x":{"field":"d","type":"ordinal","scale":{"type":"band","domain":[3,7,14,30],"paddingInner":0,"paddingOuter":0.13}},"xOffset":{"field":"g","type":"nominal","scale":{"domain":["eMSC/mesh","mesh control"],"paddingInner":0,"paddingOuter":0}},"y":{"field":"m","type":"quantitative","scale":{"domain":[-5,10],"nice":false,"zero":false}},"fill":{"field":"g","type":"nominal","scale":{"domain":["eMSC/mesh","mesh control"],"range":["black","#ee1c24"]},"legend":null}}}
   ]},
 {"width":196,"height":143,"title":{"text":"J","frame":"group","dx":-27,"offset":-3},
  "layer":[
   {"data":{"name":"bars"},"transform":[{"filter":"datum.p=='J'"}],"mark":{"type":"bar","stroke":"black","strokeWidth":1.2},"encoding":{"x":{"field":"d","type":"ordinal","scale":{"type":"band","domain":[3,7,14,30],"paddingInner":0,"paddingOuter":0.05},"axis":{"title":"Time(days)","titleFontSize":19,"titlePadding":12,"titleX":80,"labelAngle":0,"labelFontSize":15,"tickSize":5,"labelPadding":3}},"xOffset":{"field":"s","type":"nominal","scale":{"domain":["NSG eMSC/mesh","NSG mesh control","C57BL6 eMSC/mesh","C57BL6 mesh control"],"paddingInner":0.15,"paddingOuter":0.65}},"y":{"field":"v","type":"quantitative","scale":{"domain":[0,10],"nice":false,"zero":false},"axis":{"values":[0,2,4,6,8,10],"format":"d","tickCount":20,"labelOverlap":false,"title":null,"labelFontSize":11,"labelFontWeight":"bold","tickSize":4,"labelPadding":1}},
    "fill":{"field":"s","type":"nominal","scale":{"domain":["NSG eMSC/mesh","NSG mesh control","C57BL6 eMSC/mesh","C57BL6 mesh control"],"range":["black","white","#4a4a4a","#c4c4c4"]},"legend":null}}},
   {"data":{"name":"bars"},"transform":[{"filter":"datum.p=='J' && datum.s=='C57BL6 eMSC/mesh'"}],"mark":{"type":"bar","fill":{"gradient":"linear","x1":0,"y1":0,"x2":0,"y2":1,"stops":[{"offset":0,"color":"black"},{"offset":0.028,"color":"black"},{"offset":0.028,"color":"white"},{"offset":0.0625,"color":"white"},{"offset":0.0625,"color":"black"},{"offset":0.091,"color":"black"},{"offset":0.091,"color":"white"},{"offset":0.125,"color":"white"},{"offset":0.125,"color":"black"},{"offset":0.153,"color":"black"},{"offset":0.153,"color":"white"},{"offset":0.1875,"color":"white"},{"offset":0.1875,"color":"black"},{"offset":0.216,"color":"black"},{"offset":0.216,"color":"white"},{"offset":0.25,"color":"white"},{"offset":0.25,"color":"black"},{"offset":0.278,"color":"black"},{"offset":0.278,"color":"white"},{"offset":0.3125,"color":"white"},{"offset":0.3125,"color":"black"},{"offset":0.341,"color":"black"},{"offset":0.341,"color":"white"},{"offset":0.375,"color":"white"},{"offset":0.375,"color":"black"},{"offset":0.403,"color":"black"},{"offset":0.403,"color":"white"},{"offset":0.4375,"color":"white"},{"offset":0.4375,"color":"black"},{"offset":0.466,"color":"black"},{"offset":0.466,"color":"white"},{"offset":0.5,"color":"white"},{"offset":0.5,"color":"black"},{"offset":0.528,"color":"black"},{"offset":0.528,"color":"white"},{"offset":0.5625,"color":"white"},{"offset":0.5625,"color":"black"},{"offset":0.591,"color":"black"},{"offset":0.591,"color":"white"},{"offset":0.625,"color":"white"},{"offset":0.625,"color":"black"},{"offset":0.653,"color":"black"},{"offset":0.653,"color":"white"},{"offset":0.6875,"color":"white"},{"offset":0.6875,"color":"black"},{"offset":0.716,"color":"black"},{"offset":0.716,"color":"white"},{"offset":0.75,"color":"white"},{"offset":0.75,"color":"black"},{"offset":0.778,"color":"black"},{"offset":0.778,"color":"white"},{"offset":0.8125,"color":"white"},{"offset":0.8125,"color":"black"},{"offset":0.841,"color":"black"},{"offset":0.841,"color":"white"},{"offset":0.875,"color":"white"},{"offset":0.875,"color":"black"},{"offset":0.903,"color":"black"},{"offset":0.903,"color":"white"},{"offset":0.9375,"color":"white"},{"offset":0.9375,"color":"black"},{"offset":0.966,"color":"black"},{"offset":0.966,"color":"white"},{"offset":1,"color":"white"}]}},"encoding":{"x":{"field":"d","type":"ordinal","scale":{"type":"band","domain":[3,7,14,30],"paddingInner":0,"paddingOuter":0.05}},"xOffset":{"field":"s","type":"nominal","scale":{"domain":["NSG eMSC/mesh","NSG mesh control","C57BL6 eMSC/mesh","C57BL6 mesh control"],"paddingInner":0.15,"paddingOuter":0.65}},"y":{"field":"v","type":"quantitative","scale":{"domain":[0,10],"nice":false,"zero":false}}}},
   {"data":{"name":"bars"},"transform":[{"filter":"datum.p=='J' && datum.s=='C57BL6 eMSC/mesh'"}],"mark":{"type":"bar","stroke":"black","strokeWidth":1.2,"fill":{"gradient":"linear","x1":0,"y1":0,"x2":1,"y2":0,"stops":[{"offset":0,"color":"black"},{"offset":0.15,"color":"black"},{"offset":0.15,"color":"rgba(0,0,0,0)"},{"offset":0.45,"color":"rgba(0,0,0,0)"},{"offset":0.45,"color":"black"},{"offset":0.6,"color":"black"},{"offset":0.6,"color":"rgba(0,0,0,0)"},{"offset":0.9,"color":"rgba(0,0,0,0)"},{"offset":0.9,"color":"black"},{"offset":1,"color":"black"}]}},"encoding":{"x":{"field":"d","type":"ordinal","scale":{"type":"band","domain":[3,7,14,30],"paddingInner":0,"paddingOuter":0.05}},"xOffset":{"field":"s","type":"nominal","scale":{"domain":["NSG eMSC/mesh","NSG mesh control","C57BL6 eMSC/mesh","C57BL6 mesh control"],"paddingInner":0.15,"paddingOuter":0.65}},"y":{"field":"v","type":"quantitative","scale":{"domain":[0,10],"nice":false,"zero":false}}}},
   {"data":{"name":"bars"},"transform":[{"filter":"datum.p=='J'"}],"mark":{"type":"rule","color":"black","strokeWidth":1.2},"encoding":{"x":{"field":"d","type":"ordinal","scale":{"type":"band","domain":[3,7,14,30],"paddingInner":0,"paddingOuter":0.05}},"xOffset":{"field":"s","type":"nominal","scale":{"domain":["NSG eMSC/mesh","NSG mesh control","C57BL6 eMSC/mesh","C57BL6 mesh control"],"paddingInner":0.15,"paddingOuter":0.65}},"y":{"field":"v","type":"quantitative","scale":{"domain":[0,10],"nice":false,"zero":false}},"y2":{"field":"e"}}},
   {"data":{"name":"bars"},"transform":[{"filter":"datum.p=='J'"}],"mark":{"type":"tick","orient":"horizontal","size":5,"thickness":1.2,"color":"black"},"encoding":{"x":{"field":"d","type":"ordinal","scale":{"type":"band","domain":[3,7,14,30],"paddingInner":0,"paddingOuter":0.05}},"xOffset":{"field":"s","type":"nominal","scale":{"domain":["NSG eMSC/mesh","NSG mesh control","C57BL6 eMSC/mesh","C57BL6 mesh control"],"paddingInner":0.15,"paddingOuter":0.65}},"y":{"field":"e","type":"quantitative","scale":{"domain":[0,10],"nice":false,"zero":false}}}},
   {"data":{"name":"brb"},"transform":[{"filter":"datum.p=='J'"}],"mark":{"type":"line","color":"#3d6fd4","strokeWidth":1.6},"encoding":{"x":{"field":"d","type":"ordinal","scale":{"type":"band","domain":[3,7,14,30],"paddingInner":0,"paddingOuter":0.05}},"xOffset":{"field":"s","type":"nominal","scale":{"domain":["NSG eMSC/mesh","NSG mesh control","C57BL6 eMSC/mesh","C57BL6 mesh control"],"paddingInner":0.15,"paddingOuter":0.65}},"y":{"field":"y","type":"quantitative","scale":{"domain":[0,10],"nice":false,"zero":false}},"detail":{"field":"id"},"order":{"field":"k"}}},
   {"data":{"name":"stb"},"transform":[{"filter":"datum.p=='J'"}],"mark":{"type":"text","text":"*","fontSize":18,"baseline":"middle"},"encoding":{"x":{"field":"d","type":"ordinal","scale":{"type":"band","domain":[3,7,14,30],"paddingInner":0,"paddingOuter":0.05}},"xOffset":{"field":"s","type":"nominal","scale":{"domain":["NSG eMSC/mesh","NSG mesh control","C57BL6 eMSC/mesh","C57BL6 mesh control"],"paddingInner":0.15,"paddingOuter":0.65}},"y":{"field":"y","type":"quantitative","scale":{"domain":[0,10],"nice":false,"zero":false}}}}
  ]}
 ],"spacing":-2,
 "resolve":{"scale":{"color":"independent","shape":"independent","fill":"independent","stroke":"independent","xOffset":"independent"},"legend":{"color":"independent","shape":"independent","fill":"independent","stroke":"independent"}}}
]
}
